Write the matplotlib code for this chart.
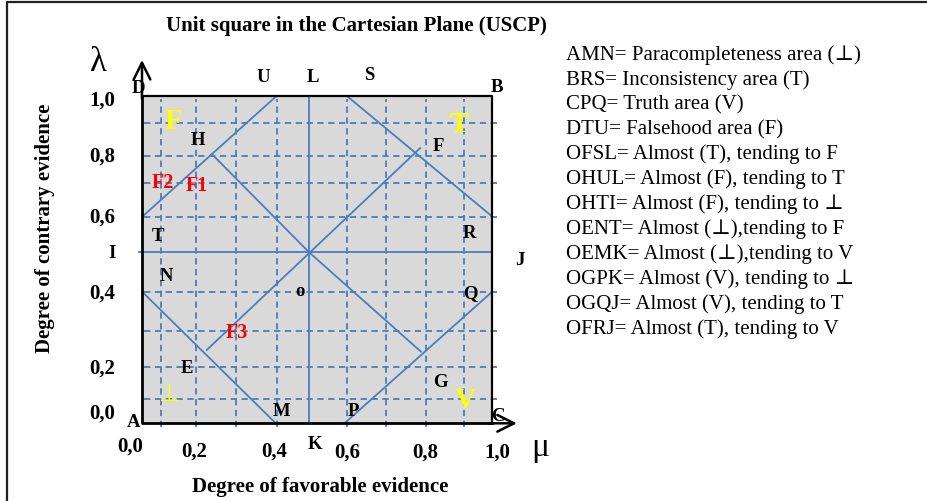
import matplotlib
matplotlib.use("Agg")
import matplotlib.pyplot as plt
from matplotlib.patches import Rectangle
from matplotlib.lines import Line2D

# grid of the unit square (mu = favorable, lambda = contrary evidence)
mu_dash = [0.054, 0.153, 0.268, 0.385, 0.584, 0.697, 0.810, 0.918]
lam_dash = [0.074, 0.173, 0.282, 0.402, 0.631, 0.734, 0.817, 0.918]
mu_mid = 0.477
lam_mid = 0.522

# solid border segments of the regions
seg_mu0 = [0.0, 0.202, 0.477, 0.185, 0.584, 0.0, 0.578]
seg_lam0 = [0.630, 0.819, 0.522, 0.224, 1.0, 0.402, 0.0]
seg_mu1 = [0.385, 0.477, 0.796, 0.794, 1.0, 0.382, 1.0]
seg_lam1 = [1.0, 0.522, 0.219, 0.840, 0.631, 0.0, 0.402]

# point names
pt_names = ["D", "U", "L", "S", "B", "H", "F", "T", "R", "I", "J", "N", "o",
            "Q", "E", "G", "M", "P", "A", "C", "K"]
pt_mu = [-0.011, 0.345, 0.488, 0.648, 1.014, 0.159, 0.846, 0.047, 0.936,
         -0.086, 1.079, 0.069, 0.452, 0.936, 0.129, 0.851, 0.399, 0.603,
         -0.025, 1.017, 0.494]
pt_lam = [1.023, 1.056, 1.056, 1.063, 1.026, 0.862, 0.846, 0.570, 0.578,
          0.519, 0.498, 0.448, 0.402, 0.397, 0.168, 0.124, 0.035, 0.035,
          0.001, 0.020, -0.066]

# region symbols (yellow) and sub-areas (red)
sym_names = ["F", "T", "V"]
sym_mu = [0.091, 0.906, 0.924]
sym_lam = [0.921, 0.911, 0.071]
bot_mu, bot_lam = 0.078, 0.089
red_names = ["F2", "F1", "F3"]
red_mu = [0.061, 0.156, 0.270]
red_lam = [0.734, 0.724, 0.275]

# tick labels
ytick_labels = ["1,0", "0,8", "0,6", "0,4", "0,2", "0,0"]
ytick_lam = [0.984, 0.813, 0.629, 0.397, 0.166, 0.031]
xtick_labels = ["0,0", "0,2", "0,4", "0,6", "0,8", "1,0"]
xtick_mu = [-0.034, 0.149, 0.377, 0.587, 0.810, 1.013]
xtick_lam = [-0.071, -0.087, -0.087, -0.090, -0.090, -0.090]

legend_lines = [
    "AMN= Paracompleteness area (\u22a5)",
    "BRS= Inconsistency area (T)",
    "CPQ= Truth area (V)",
    "DTU= Falsehood area (F)",
    "OFSL= Almost (T), tending to F",
    "OHUL= Almost (F), tending to T",
    "OHTI= Almost (F), tending to \u22a5",
    "OENT= Almost (\u22a5),tending to F",
    "OEMK= Almost (\u22a5),tending to V",
    "OGPK= Almost (V), tending to \u22a5",
    "OGQJ= Almost (V), tending to T",
    "OFRJ= Almost (T), tending to V",
]

serif = ["Liberation Serif", "DejaVu Serif"]
blue = "#4A7EBB"

fig = plt.figure(figsize=(9.27, 5.01), dpi=100)
ax = fig.add_axes([142 / 927, 1 - 423.3 / 501, 350.3 / 927, 327.6 / 501])
ax.set_xlim(0, 1)
ax.set_ylim(0, 1)
ax.axis("off")

ax.add_patch(Rectangle((0, 0), 1, 1, facecolor="#d9d9d9", edgecolor="none", zorder=0))

for m in mu_dash:
    ax.plot([m, m], [-0.012, 0.99], color=blue, lw=1.3, dashes=(3.5, 2.5), clip_on=False, zorder=1)
for l in lam_dash:
    ax.plot([0.005, 1.012], [l, l], color=blue, lw=1.3, dashes=(3.5, 2.5), clip_on=False, zorder=1)

ax.plot([mu_mid, mu_mid], [0, 1], color=blue, lw=1.3, zorder=2)
ax.plot([-0.008, 1], [lam_mid, lam_mid], color=blue, lw=1.3, clip_on=False, zorder=2)
for x0, y0, x1, y1 in zip(seg_mu0, seg_lam0, seg_mu1, seg_lam1):
    ax.plot([x0, x1], [y0, y1], color=blue, lw=1.3, zorder=2)

# square border and the two axis arrows
ax.plot([0, 1, 1], [1, 1, 0], color="black", lw=1.6, zorder=3, clip_on=False)
ax.plot([0, 0, 1], [1, 0, 0], color="black", lw=2.0, zorder=3, clip_on=False)
arrow = dict(arrowstyle="->,head_length=1.2,head_width=0.6", lw=1.8, color="black",
             shrinkA=0, shrinkB=0)
ax.annotate("", xy=(0, 1.109), xytext=(0, 0.99), arrowprops=arrow, annotation_clip=False)
ax.annotate("", xy=(1.070, 0), xytext=(0.99, 0), arrowprops=arrow, annotation_clip=False)

for name, m, l in zip(pt_names, pt_mu, pt_lam):
    ax.text(m, l, name, family=serif, weight="bold", fontsize=13.5, ha="center", va="center",
            zorder=5, clip_on=False)
for name, m, l in zip(sym_names, sym_mu, sym_lam):
    ax.text(m, l, name, family=serif, weight="bold", fontsize=21, color="yellow",
            ha="center", va="center", zorder=5)
ax.text(bot_mu, bot_lam, "\u22a5", family=["DejaVu Sans"], fontsize=17, color="yellow",
        ha="center", va="center", zorder=5)
for name, m, l in zip(red_names, red_mu, red_lam):
    ax.text(m, l, name, family=serif, weight="bold", fontsize=14.5, color="red",
            ha="center", va="center", zorder=5)

for lab, l in zip(ytick_labels, ytick_lam):
    ax.text(-0.114, l, lab, family=serif, weight="bold", fontsize=15, ha="center", va="center",
            clip_on=False)
for lab, m, l in zip(xtick_labels, xtick_mu, xtick_lam):
    ax.text(m, l, lab, family=serif, weight="bold", fontsize=15, ha="center", va="center",
            clip_on=False)

ax.text(-0.126, 1.100, "\u03bb", family=serif, fontsize=25, ha="center", va="center", clip_on=False)
ax.text(1.136, -0.075, "\u03bc", family=serif, fontsize=24, ha="center", va="center", clip_on=False)

fig.text(356 / 927, 1 - 26 / 501, "Unit square in the Cartesian Plane (USCP)", family=serif,
         weight="bold", fontsize=15, ha="center", va="center")
fig.text(45 / 927, 1 - 228 / 501, "Degree of contrary evidence", family=serif, weight="bold",
         fontsize=15, rotation=90, ha="center", va="center")
fig.text(320 / 927, 1 - 487 / 501, "Degree of favorable evidence", family=serif, weight="bold",
         fontsize=15, ha="center", va="center")

for i, line in enumerate(legend_lines):
    fig.text(566 / 927, 1 - (55 + 24.9 * i) / 501, line, family=serif, fontsize=15,
             ha="left", va="center")

# outer frame (top and left only)
fig.add_artist(Line2D([7 / 927, 7 / 927, 1], [0, 1 - 2 / 501, 1 - 2 / 501], color="#222222", lw=1.6))

fig.savefig("out.png", dpi=100)
